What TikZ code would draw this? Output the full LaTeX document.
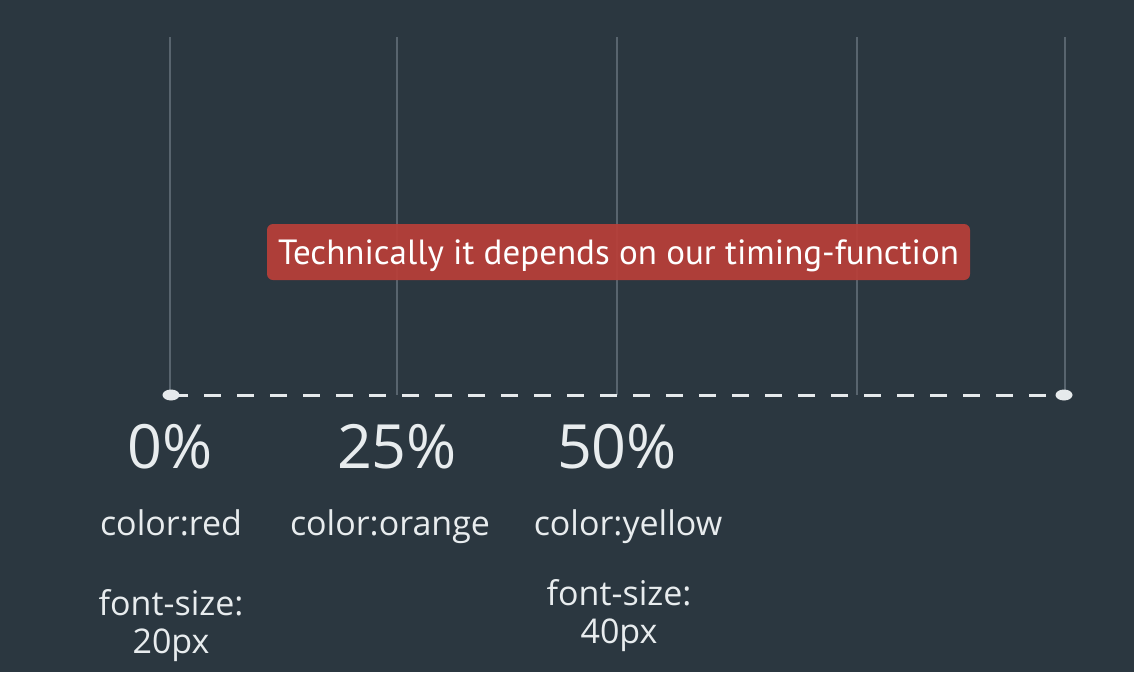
\documentclass[tikz,border=0pt]{standalone}
\usepackage{fontspec}
\setmainfont{Open Sans}
\newfontfamily\notefont{PT Sans}
\definecolor{bg}{HTML}{2B3740}
\definecolor{gridline}{HTML}{58646E}
\definecolor{track}{HTML}{E6EAEC}
\definecolor{note}{HTML}{B83F39}
\definecolor{txt}{HTML}{E8ECEE}

\begin{document}
\begin{tikzpicture}[x=1pt, y=-1pt,
    grid/.style={gridline, line width=1.3pt},
    pct/.style={text=txt, anchor=base, inner sep=0pt, font=\fontsize{61}{66}\selectfont},
    prop/.style={text=txt, anchor=base, inner sep=0pt, align=center, font=\fontsize{34}{38}\selectfont}]
    \fill[bg] (0,0) rectangle (1134,672);
    % keyframe lines
    \foreach \x/\n in {170/a, 397/b, 617/c, 857/d, 1065/e} {
        \coordinate (top\n) at (\x,37);
        \coordinate (bot\n) at (\x,395);
        \draw[grid] (top\n) -- (bot\n);
    }
    % timeline
    \coordinate (start) at (171,395);
    \coordinate (end) at (1064,395);
    \draw[track, line width=3pt, dash pattern=on 17pt off 16pt] (start) -- (end);
    \fill[track] (start) ellipse (8.5pt and 5.5pt);
    \fill[track] (end) ellipse (8.5pt and 5.5pt);
    % note
    \node (note) [fill=note, fill opacity=0.93, text opacity=1, text=white, rounded corners=6pt,
        minimum width=703pt, minimum height=56pt, inner sep=0pt, text depth=0pt,
        font=\notefont\fontsize{35}{40}\selectfont] at (618.5,252) {Technically it depends on our timing-function};
    % keyframes
    \node (p0) [pct] at (170,468) {0\%};
    \node (p25) [pct] at (397,468) {25\%};
    \node (p50) [pct] at (617,468) {50\%};
    \node (c0) [prop] at (171,535) {color:red};
    \node (c25) [prop] at (390,535) {color:orange};
    \node (c50) [prop] at (628,535) {color:yellow};
    \node (f0) [prop] at (171,653) {font-size:\\20px};
    \node (f50) [prop] at (619,643) {font-size:\\40px};
\end{tikzpicture}
\end{document}
